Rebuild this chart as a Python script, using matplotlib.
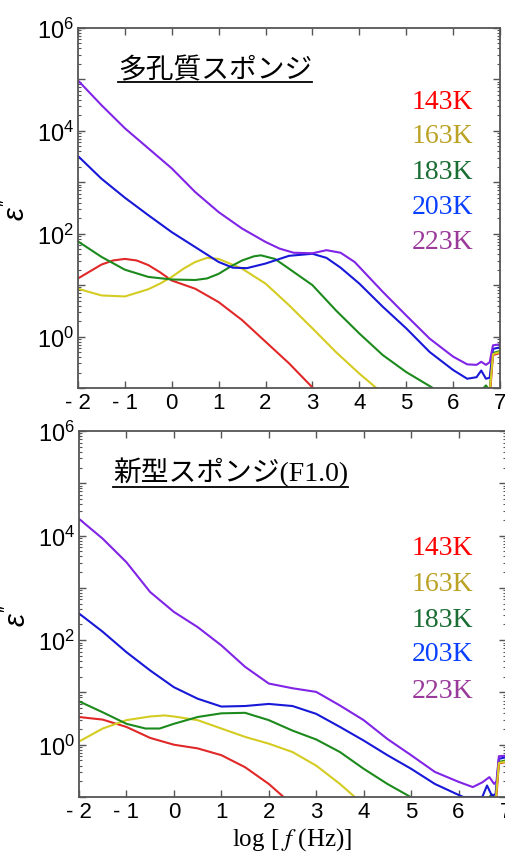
import numpy as np
import matplotlib
matplotlib.use("Agg")
import matplotlib.pyplot as plt
from matplotlib.lines import Line2D

# log10(f) / log10(eps'')
# --- porous sponge ---
top_red_x = [-2, -1.5, -1.25, -1, -0.75, -0.5, -0.25, 0, 0.5, 1, 1.5, 2, 2.5, 3, 3.5]
top_red_y = [1.13, 1.40, 1.48, 1.51, 1.48, 1.39, 1.25, 1.09, 0.93, 0.67, 0.32, -0.10, -0.52, -0.99, -1.4]
top_yel_x = [-2, -1.5, -1, -0.5, -0.25, 0, 0.25, 0.5, 0.75, 1, 1.5, 2, 2.5, 3, 3.5, 4, 4.35, 4.8]
top_yel_y = [0.93, 0.80, 0.78, 0.92, 1.03, 1.16, 1.32, 1.45, 1.53, 1.51, 1.32, 1.03, 0.61, 0.16, -0.30, -0.72, -0.99, -1.4]
top_grn_x = [-2, -1.5, -1, -0.5, 0, 0.5, 0.75, 1, 1.25, 1.5, 1.75, 1.9, 2.2, 2.5, 3, 3.5, 4, 4.5, 5, 5.55, 6.0, 6.6, 6.7, 6.78, 6.85, 7.0]
top_grn_y = [1.85, 1.55, 1.30, 1.16, 1.11, 1.10, 1.13, 1.22, 1.36, 1.48, 1.56, 1.58, 1.51, 1.32, 1.0, 0.51, 0.06, -0.36, -0.69, -0.99, -1.4, -1.05, -0.95, -1.05, -0.32, -0.28]
top_blu_x = [-2, -1.5, -1, -0.5, 0, 0.5, 1, 1.3, 1.6, 2, 2.5, 3, 3.3, 3.6, 4, 4.5, 5, 5.5, 6, 6.3, 6.5, 6.6, 6.7, 6.78, 6.85, 7.0]
top_blu_y = [3.51, 3.07, 2.70, 2.36, 2.03, 1.74, 1.45, 1.34, 1.33, 1.42, 1.57, 1.61, 1.53, 1.34, 1.03, 0.58, 0.16, -0.30, -0.65, -0.82, -0.79, -0.66, -0.82, -0.80, -0.24, -0.21]
top_pur_x = [-2, -1.5, -1, -0.5, 0, 0.5, 1, 1.5, 2, 2.3, 2.6, 3, 3.3, 3.6, 3.9, 4.5, 5, 5.5, 6, 6.3, 6.5, 6.6, 6.7, 6.78, 6.85, 7.0]
top_pur_y = [4.98, 4.50, 4.05, 3.66, 3.27, 2.81, 2.42, 2.10, 1.84, 1.71, 1.63, 1.62, 1.68, 1.63, 1.45, 0.87, 0.41, -0.04, -0.39, -0.54, -0.55, -0.49, -0.55, -0.50, -0.17, -0.15]
top_red_tail = ([6.7, 6.78, 6.85, 7.0], [-1.4, -1.2, -0.36, -0.32])
top_yel_tail = ([6.7, 6.78, 6.85, 7.0], [-1.4, -1.1, -0.34, -0.30])

# --- new sponge (F1.0) ---
bot_red_x = [-2, -1.5, -1, -0.5, 0, 0.5, 1, 1.5, 2, 2.3, 2.7]
bot_red_y = [0.53, 0.48, 0.34, 0.13, 0.0, -0.07, -0.20, -0.43, -0.75, -0.99, -1.4]
bot_yel_x = [-2, -1.5, -1, -0.5, -0.2, 0, 0.5, 1, 1.5, 2, 2.5, 3, 3.5, 3.8, 4.2]
bot_yel_y = [0.06, 0.31, 0.47, 0.54, 0.56, 0.54, 0.47, 0.31, 0.15, 0.02, -0.14, -0.40, -0.75, -0.99, -1.4]
bot_grn_x = [-2, -1.5, -1, -0.6, -0.3, 0, 0.5, 1, 1.5, 2, 2.5, 3, 3.5, 4, 4.5, 4.97, 5.4, 6.6, 6.7, 6.78, 6.85, 7.0]
bot_grn_y = [0.83, 0.62, 0.40, 0.31, 0.31, 0.40, 0.53, 0.60, 0.61, 0.47, 0.27, 0.10, -0.14, -0.46, -0.75, -0.99, -1.4, -1.05, -0.95, -1.05, -0.33, -0.30]
bot_blu_x = [-2, -1.5, -1, -0.5, 0, 0.5, 1, 1.5, 2, 2.5, 3, 3.5, 4, 4.5, 5, 5.5, 6, 6.1, 6.5, 6.6, 6.7, 6.78, 6.85, 7.0]
bot_blu_y = [2.51, 2.16, 1.77, 1.42, 1.10, 0.88, 0.73, 0.74, 0.78, 0.74, 0.59, 0.34, 0.08, -0.20, -0.46, -0.75, -0.96, -1.0, -1.0, -0.78, -0.97, -0.95, -0.27, -0.24]
bot_pur_x = [-2, -1.5, -1, -0.5, 0, 0.5, 1, 1.5, 2, 2.5, 3, 3.5, 4, 4.5, 5, 5.5, 6, 6.3, 6.5, 6.65, 6.75, 6.8, 6.85, 7.0]
bot_pur_y = [4.32, 3.94, 3.49, 2.92, 2.54, 2.25, 1.90, 1.49, 1.17, 1.08, 1.01, 0.75, 0.47, 0.11, -0.20, -0.52, -0.71, -0.81, -0.72, -0.62, -0.75, -0.70, -0.22, -0.21]
bot_red_tail = ([6.7, 6.78, 6.85, 7.0], [-1.4, -1.2, -0.36, -0.33])
bot_yel_tail = ([6.7, 6.78, 6.85, 7.0], [-1.4, -1.1, -0.35, -0.32])

temps = ["143K", "163K", "183K", "203K", "223K"]
line_colors = ["#e02828", "#d4cc22", "#1c8a1c", "#1818d8", "#8024e6"]
text_colors = ["#ff0000", "#bba224", "#1a6e34", "#0a40ff", "#9a3a9a"]

x_ticks = [-2, -1, 0, 1, 2, 3, 4, 5, 6, 7]
x_ticklabels = ["- 2", "- 1", "0", "1", "2", "3", "4", "5", "6", "7"]

plt.rcParams['font.family'] = ['Liberation Sans', 'DejaVu Sans']
plt.rcParams['mathtext.fontset'] = 'custom'
plt.rcParams['mathtext.rm'] = 'Liberation Sans'
plt.rcParams['mathtext.it'] = 'Liberation Sans:italic'

W, H = 505, 853
fig = plt.figure(figsize=(W / 100, H / 100), dpi=100, facecolor='white')


def px_axes(left, right, top, bottom):
    return fig.add_axes([left / W, 1 - bottom / H, (right - left) / W, (bottom - top) / H])


def style_axes(ax):
    ax.set_yscale('log')
    ax.set_xlim(-2, 7)
    ax.set_ylim(0.1, 1e6)
    ax.set_xticks(x_ticks)
    ax.set_xticklabels(x_ticklabels, fontsize=16)
    ax.set_yticks([10.0 ** k for k in range(-1, 7)])
    ax.set_yticklabels(["" if k % 2 else r"$10^{%d}$" % k for k in range(-1, 7)], fontsize=17)
    ax.yaxis.set_minor_locator(matplotlib.ticker.LogLocator(base=10, subs=np.arange(2, 10), numticks=20))
    ax.yaxis.set_minor_formatter(matplotlib.ticker.NullFormatter())
    ax.tick_params(which='both', direction='in', top=True, right=True, color='#555555')
    ax.tick_params(which='major', length=5, width=1.0, pad=3)
    ax.tick_params(which='minor', length=2.5, width=0.8)
    ax.tick_params(axis='x', pad=3)
    for sp in ax.spines.values():
        sp.set_color('#555555')
        sp.set_linewidth(1.3)
    ax.set_ylabel(r"$\varepsilon''$", fontsize=21, labelpad=4)


def draw_panel(ax, series, tails):
    for (xs, ys), c in zip(series, line_colors):
        ax.plot(xs, 10.0 ** np.array(ys), color=c, lw=1.5)
    for (xs, ys), c in tails:
        ax.plot(xs, 10.0 ** np.array(ys), color=c, lw=1.5)


ax1 = px_axes(78, 500, 29, 389)
style_axes(ax1)
draw_panel(ax1,
           [(top_red_x, top_red_y), (top_yel_x, top_yel_y), (top_grn_x, top_grn_y),
            (top_blu_x, top_blu_y), (top_pur_x, top_pur_y)],
           [(top_red_tail, line_colors[0]), (top_yel_tail, line_colors[1])])

ax2 = px_axes(79, 506, 432, 798)
style_axes(ax2)
draw_panel(ax2,
           [(bot_red_x, bot_red_y), (bot_yel_x, bot_yel_y), (bot_grn_x, bot_grn_y),
            (bot_blu_x, bot_blu_y), (bot_pur_x, bot_pur_y)],
           [(bot_red_tail, line_colors[0]), (bot_yel_tail, line_colors[1])])
ax2.set_xlabel("log [ $\\it{f}$ (Hz)]", family='Liberation Serif', fontsize=18, labelpad=2)
ax2.xaxis.label.set_math_fontfamily('stix')

# temperature labels
for ax, ys, xr in [(ax1, [0.797, 0.700, 0.600, 0.503, 0.406], 0.936),
                   (ax2, [0.683, 0.582, 0.486, 0.391, 0.292], 0.923)]:
    for t, c, y in zip(temps, text_colors, ys):
        ax.text(xr, y, t, transform=ax.transAxes, ha='right', va='center',
                color=c, fontsize=20, family='Liberation Serif')

# panel titles (underlined)
t1 = fig.text(118 / W, 1 - 78 / H, "多孔質スポンジ", fontsize=20,
              family=['Noto Sans CJK JP'], ha='left', va='baseline')
t2 = fig.text(113 / W, 1 - 481 / H, "新型スポンジ(F1.0)", fontsize=20,
              family=['Liberation Serif', 'Noto Sans CJK JP'], ha='left', va='baseline')

fig.canvas.draw()
r = fig.canvas.get_renderer()
for t, uy in [(t1, 83), (t2, 488)]:
    bb = t.get_window_extent(r)
    fig.add_artist(Line2D([bb.x0 / W, bb.x1 / W], [1 - uy / H, 1 - uy / H],
                          transform=fig.transFigure, color='black', lw=1.3))

fig.savefig("out.png", dpi=100, facecolor='white')
